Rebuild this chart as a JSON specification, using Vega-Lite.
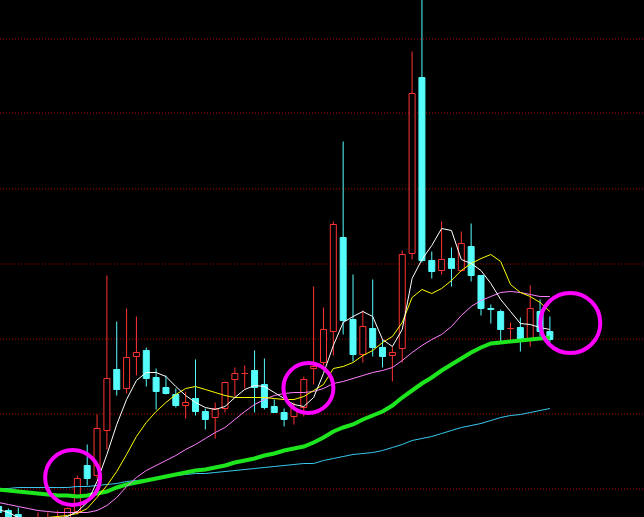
{
  "$schema": "https://vega.github.io/schema/vega-lite/v6.json",
  "width": 644,
  "height": 517,
  "padding": 0,
  "autosize": {"type": "none"},
  "background": "#000000",
  "config": {"view": {"stroke": null}},
  "data": {"values": [
    {"k":-1,"open":10,"close":4,"high":12,"low":2,"ma5":7,"ma10":-4,"ma20":14,"ma60":27,"ma120":28},
    {"k":0,"open":6,"close":-5,"high":8,"low":-8,"ma5":4,"ma10":-5,"ma20":12,"ma60":26,"ma120":28},
    {"k":1,"open":2,"close":-5,"high":9,"low":-9,"ma5":-1,"ma10":-6,"ma20":10,"ma60":25,"ma120":29},
    {"k":2,"open":-5,"close":-11,"high":-2,"low":-14,"ma5":-4,"ma10":-5,"ma20":8,"ma60":24,"ma120":29},
    {"k":3,"open":-8,"close":-3,"high":4,"low":-11,"ma5":-4,"ma10":-3,"ma20":6,"ma60":23,"ma120":29},
    {"k":4,"open":-9,"close":-4,"high":4,"low":-12,"ma5":-3,"ma10":-1,"ma20":5,"ma60":22,"ma120":29},
    {"k":5,"open":-7,"close":-2,"high":6,"low":-10,"ma5":-2,"ma10":0,"ma20":4,"ma60":21,"ma120":29},
    {"k":6,"open":-3,"close":8,"high":9,"low":-6,"ma5":0,"ma10":1,"ma20":4,"ma60":21,"ma120":29},
    {"k":7,"open":5,"close":38,"high":41,"low":2,"ma5":5,"ma10":3,"ma20":4,"ma60":20,"ma120":30},
    {"k":8,"open":51,"close":38,"high":72,"low":31,"ma5":14,"ma10":8,"ma20":4,"ma60":21,"ma120":30},
    {"k":9,"open":41,"close":88,"high":102,"low":38,"ma5":35,"ma10":19,"ma20":6,"ma60":23,"ma120":31},
    {"k":10,"open":86,"close":138,"high":241,"low":67,"ma5":62,"ma10":31,"ma20":11,"ma60":25,"ma120":32},
    {"k":11,"open":147,"close":127,"high":195,"low":121,"ma5":92,"ma10":45,"ma20":19,"ma60":29,"ma120":33},
    {"k":12,"open":128,"close":159,"high":208,"low":123,"ma5":117,"ma10":62,"ma20":30,"ma60":32,"ma120":35},
    {"k":13,"open":160,"close":164,"high":200,"low":141,"ma5":136,"ma10":80,"ma20":39,"ma60":34,"ma120":36},
    {"k":14,"open":166,"close":138,"high":169,"low":130,"ma5":144,"ma10":94,"ma20":46,"ma60":36,"ma120":37},
    {"k":15,"open":139,"close":125,"high":148,"low":107,"ma5":144,"ma10":105,"ma20":51,"ma60":38,"ma120":38},
    {"k":16,"open":129,"close":123,"high":141,"low":122,"ma5":140,"ma10":114,"ma20":56,"ma60":40,"ma120":40},
    {"k":17,"open":122,"close":111,"high":128,"low":109,"ma5":130,"ma10":122,"ma20":61,"ma60":42,"ma120":41},
    {"k":18,"open":111,"close":114,"high":125,"low":98,"ma5":121,"ma10":128,"ma20":67,"ma60":44,"ma120":42},
    {"k":19,"open":118,"close":105,"high":157,"low":101,"ma5":114,"ma10":130,"ma20":72,"ma60":46,"ma120":43},
    {"k":20,"open":105,"close":97,"high":108,"low":87,"ma5":109,"ma10":127,"ma20":78,"ma60":47,"ma120":43},
    {"k":21,"open":99,"close":108,"high":114,"low":78,"ma5":107,"ma10":124,"ma20":84,"ma60":49,"ma120":44},
    {"k":22,"open":108,"close":134,"high":135,"low":104,"ma5":110,"ma10":121,"ma20":89,"ma60":51,"ma120":45},
    {"k":23,"open":137,"close":143,"high":149,"low":120,"ma5":119,"ma10":119,"ma20":97,"ma60":54,"ma120":46},
    {"k":24,"open":143,"close":143,"high":151,"low":128,"ma5":127,"ma10":119,"ma20":105,"ma60":56,"ma120":47},
    {"k":25,"open":146,"close":129,"high":166,"low":104,"ma5":131,"ma10":119,"ma20":112,"ma60":58,"ma120":48},
    {"k":26,"open":132,"close":109,"high":158,"low":107,"ma5":130,"ma10":119,"ma20":117,"ma60":61,"ma120":49},
    {"k":27,"open":110,"close":104,"high":117,"low":104,"ma5":124,"ma10":118,"ma20":121,"ma60":63,"ma120":50},
    {"k":28,"open":104,"close":97,"high":108,"low":90,"ma5":118,"ma10":117,"ma20":123,"ma60":66,"ma120":51},
    {"k":29,"open":100,"close":108,"high":114,"low":92,"ma5":112,"ma10":117,"ma20":124,"ma60":68,"ma120":52},
    {"k":30,"open":109,"close":137,"high":140,"low":100,"ma5":110,"ma10":120,"ma20":124,"ma60":70,"ma120":53},
    {"k":31,"open":148,"close":150,"high":230,"low":132,"ma5":119,"ma10":126,"ma20":125,"ma60":74,"ma120":53},
    {"k":32,"open":154,"close":187,"high":209,"low":151,"ma5":143,"ma10":132,"ma20":128,"ma60":79,"ma120":56},
    {"k":33,"open":185,"close":292,"high":295,"low":161,"ma5":171,"ma10":148,"ma20":133,"ma60":85,"ma120":58},
    {"k":34,"open":279,"close":196,"high":375,"low":182,"ma5":194,"ma10":150,"ma20":135,"ma60":89,"ma120":60},
    {"k":35,"open":197,"close":162,"high":242,"low":155,"ma5":200,"ma10":154,"ma20":138,"ma60":92,"ma120":62},
    {"k":36,"open":162,"close":190,"high":206,"low":154,"ma5":205,"ma10":161,"ma20":141,"ma60":97,"ma120":63},
    {"k":37,"open":188,"close":169,"high":237,"low":160,"ma5":200,"ma10":166,"ma20":144,"ma60":101,"ma120":64},
    {"k":38,"open":169,"close":160,"high":177,"low":149,"ma5":177,"ma10":174,"ma20":146,"ma60":105,"ma120":66},
    {"k":39,"open":161,"close":164,"high":170,"low":135,"ma5":170,"ma10":180,"ma20":149,"ma60":111,"ma120":69},
    {"k":40,"open":168,"close":262,"high":266,"low":154,"ma5":187,"ma10":194,"ma20":156,"ma60":119,"ma120":72},
    {"k":41,"open":263,"close":423,"high":465,"low":257,"ma5":238,"ma10":219,"ma20":164,"ma60":126,"ma120":76},
    {"k":42,"open":439,"close":256,"high":522,"low":254,"ma5":257,"ma10":227,"ma20":171,"ma60":133,"ma120":78},
    {"k":43,"open":256,"close":245,"high":265,"low":238,"ma5":271,"ma10":223,"ma20":177,"ma60":139,"ma120":80},
    {"k":44,"open":246,"close":257,"high":295,"low":242,"ma5":288,"ma10":228,"ma20":182,"ma60":146,"ma120":83},
    {"k":45,"open":258,"close":248,"high":269,"low":230,"ma5":286,"ma10":236,"ma20":190,"ma60":152,"ma120":86},
    {"k":46,"open":246,"close":273,"high":285,"low":245,"ma5":257,"ma10":246,"ma20":201,"ma60":158,"ma120":89},
    {"k":47,"open":270,"close":241,"high":293,"low":235,"ma5":253,"ma10":253,"ma20":210,"ma60":164,"ma120":91},
    {"k":48,"open":241,"close":208,"high":241,"low":201,"ma5":246,"ma10":258,"ma20":216,"ma60":169,"ma120":93},
    {"k":49,"open":208,"close":207,"high":212,"low":193,"ma5":233,"ma10":262,"ma20":220,"ma60":173,"ma120":96},
    {"k":50,"open":205,"close":187,"high":207,"low":175,"ma5":217,"ma10":255,"ma20":224,"ma60":174,"ma120":99},
    {"k":51,"open":188,"close":188,"high":194,"low":175,"ma5":205,"ma10":232,"ma20":225,"ma60":175,"ma120":101},
    {"k":52,"open":189,"close":175,"high":199,"low":165,"ma5":193,"ma10":224,"ma20":224,"ma60":176,"ma120":102},
    {"k":53,"open":177,"close":208,"high":231,"low":170,"ma5":192,"ma10":220,"ma20":222,"ma60":177,"ma120":104},
    {"k":54,"open":205,"close":185,"high":217,"low":180,"ma5":189,"ma10":214,"ma20":220,"ma60":178,"ma120":106},
    {"k":55,"open":185,"close":177,"high":200,"low":174,"ma5":187,"ma10":205,"ma20":220,"ma60":179,"ma120":108}
  ]},
  "layer": [
    {
      "mark": {"type": "rule", "strokeWidth": 1, "clip": true},
      "encoding": {
        "x": {"field": "k", "type": "quantitative", "scale": {"domain": [-0.35, 64.05], "nice": false, "zero": false}, "axis": null},
        "y": {"field": "low", "type": "quantitative", "scale": {"domain": [-0.5, 516.5], "nice": false, "zero": false},
              "axis": {"values": [28, 103, 178, 253, 328, 403, 478], "grid": true, "gridColor": "#b00000", "gridDash": [1, 2], "gridWidth": 1, "translate": 0, "labels": false, "ticks": false, "domain": false, "title": null}},
        "y2": {"field": "high"},
        "color": {"condition": {"test": "datum.close >= datum.open", "value": "#ff3232"}, "value": "#54fcfc"}
      }
    },
    {
      "mark": {"type": "bar", "size": 6, "strokeWidth": 1, "clip": true},
      "encoding": {
        "x": {"field": "k", "type": "quantitative", "scale": {"domain": [-0.35, 64.05], "nice": false, "zero": false}, "axis": null},
        "y": {"field": "open", "type": "quantitative", "scale": {"domain": [-0.5, 516.5], "nice": false, "zero": false}},
        "y2": {"field": "close"},
        "fill": {"condition": {"test": "datum.close >= datum.open", "value": "#000000"}, "value": "#54fcfc"},
        "stroke": {"condition": {"test": "datum.close >= datum.open", "value": "#ff3232"}, "value": "#54fcfc"}
      }
    },
    {
      "mark": {"type": "line", "strokeWidth": 1, "color": "#38c8f0", "clip": true},
      "encoding": {
        "x": {"field": "k", "type": "quantitative", "scale": {"domain": [-0.35, 64.05], "nice": false, "zero": false}, "axis": null},
        "y": {"field": "ma120", "type": "quantitative", "scale": {"domain": [-0.5, 516.5], "nice": false, "zero": false}}
      }
    },
    {
      "mark": {"type": "line", "strokeWidth": 4, "color": "#1ee61e", "clip": true},
      "encoding": {
        "x": {"field": "k", "type": "quantitative", "scale": {"domain": [-0.35, 64.05], "nice": false, "zero": false}, "axis": null},
        "y": {"field": "ma60", "type": "quantitative", "scale": {"domain": [-0.5, 516.5], "nice": false, "zero": false}}
      }
    },
    {
      "mark": {"type": "line", "strokeWidth": 1, "color": "#ff80ff", "clip": true},
      "encoding": {
        "x": {"field": "k", "type": "quantitative", "scale": {"domain": [-0.35, 64.05], "nice": false, "zero": false}, "axis": null},
        "y": {"field": "ma20", "type": "quantitative", "scale": {"domain": [-0.5, 516.5], "nice": false, "zero": false}}
      }
    },
    {
      "mark": {"type": "line", "strokeWidth": 1, "color": "#ffff00", "clip": true},
      "encoding": {
        "x": {"field": "k", "type": "quantitative", "scale": {"domain": [-0.35, 64.05], "nice": false, "zero": false}, "axis": null},
        "y": {"field": "ma10", "type": "quantitative", "scale": {"domain": [-0.5, 516.5], "nice": false, "zero": false}}
      }
    },
    {
      "mark": {"type": "line", "strokeWidth": 1, "color": "#ffffff", "clip": true},
      "encoding": {
        "x": {"field": "k", "type": "quantitative", "scale": {"domain": [-0.35, 64.05], "nice": false, "zero": false}, "axis": null},
        "y": {"field": "ma5", "type": "quantitative", "scale": {"domain": [-0.5, 516.5], "nice": false, "zero": false}}
      }
    },
    {
      "data": {"values": [{"k": 6.52, "price": 39}]},
      "mark": {"type": "point", "shape": "circle", "filled": false, "stroke": "#ff00ff", "strokeWidth": 4, "opacity": 1, "size": 3025, "clip": true},
      "encoding": {
        "x": {"field": "k", "type": "quantitative", "scale": {"domain": [-0.35, 64.05], "nice": false, "zero": false}, "axis": null},
        "y": {"field": "price", "type": "quantitative", "scale": {"domain": [-0.5, 516.5], "nice": false, "zero": false}}
      }
    },
    {
      "data": {"values": [{"k": 30.47, "price": 128.5}]},
      "mark": {"type": "point", "shape": "circle", "filled": false, "stroke": "#ff00ff", "strokeWidth": 4, "opacity": 1, "size": 2500, "clip": true},
      "encoding": {
        "x": {"field": "k", "type": "quantitative", "scale": {"domain": [-0.35, 64.05], "nice": false, "zero": false}, "axis": null},
        "y": {"field": "price", "type": "quantitative", "scale": {"domain": [-0.5, 516.5], "nice": false, "zero": false}}
      }
    },
    {
      "data": {"values": [{"k": 57.07, "price": 193.5}]},
      "mark": {"type": "point", "shape": "circle", "filled": false, "stroke": "#ff00ff", "strokeWidth": 4, "opacity": 1, "size": 3600, "clip": true},
      "encoding": {
        "x": {"field": "k", "type": "quantitative", "scale": {"domain": [-0.35, 64.05], "nice": false, "zero": false}, "axis": null},
        "y": {"field": "price", "type": "quantitative", "scale": {"domain": [-0.5, 516.5], "nice": false, "zero": false}}
      }
    }
  ]
}
